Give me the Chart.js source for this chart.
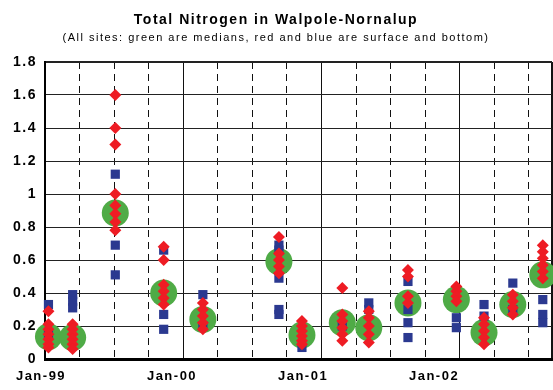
<!DOCTYPE html>
<html>
<head>
<meta charset="utf-8">
<title>Total Nitrogen in Walpole-Nornalup</title>
<script src="https://cdn.jsdelivr.net/npm/chart.js@4"></script>
<style>
  html, body { margin: 0; padding: 0; background: #fff; }
  #wrap { width: 553px; height: 390px; }
</style>
</head>
<body>
<div id="wrap"><canvas id="chartNitrogen"></canvas></div>
<script>
// ==========================
//  Data (months counted from Jan-99)
// ==========================
const sampleMonths = [0.3, 2.4, 6.1, 10.3, 13.7, 20.3, 22.3, 25.8, 28.1, 31.5, 35.7, 38.1, 40.6, 43.2];

// median of all sites per sampling run
const medianTN = [0.135, 0.13, 0.885, 0.40, 0.24, 0.59, 0.145, 0.22, 0.19, 0.34, 0.36, 0.16, 0.33, 0.51];

// surface samples (red)
const surfaceTN = [
  [0.29, 0.21, 0.18, 0.15, 0.12, 0.09, 0.07],
  [0.21, 0.18, 0.15, 0.12, 0.09, 0.06],
  [1.6, 1.4, 1.3, 1.0, 0.93, 0.88, 0.83, 0.78],
  [0.68, 0.6, 0.45, 0.41, 0.37, 0.33],
  [0.34, 0.3, 0.26, 0.22, 0.18],
  [0.74, 0.64, 0.6, 0.56, 0.52],
  [0.23, 0.2, 0.17, 0.14, 0.11, 0.09],
  [0.43, 0.27, 0.23, 0.19, 0.15, 0.11],
  [0.29, 0.25, 0.2, 0.15, 0.1],
  [0.54, 0.5, 0.38, 0.34],
  [0.44, 0.41, 0.38, 0.35],
  [0.25, 0.21, 0.17, 0.13, 0.09],
  [0.39, 0.35, 0.31, 0.27],
  [0.69, 0.65, 0.61, 0.57, 0.53, 0.49],
];

// bottom samples (blue)
const bottomTN = [
  [0.33, 0.15],
  [0.39, 0.35, 0.31],
  [1.12, 0.69, 0.51],
  [0.66, 0.27, 0.18],
  [0.39, 0.2],
  [0.69, 0.66, 0.49, 0.3, 0.27],
  [0.07],
  [0.2],
  [0.34, 0.3],
  [0.47, 0.3, 0.22, 0.13],
  [0.25, 0.19],
  [0.33, 0.26],
  [0.46, 0.3],
  [0.36, 0.27, 0.22],
];

// grid every quarter, last line closes the frame
const gridMonths = [0, 3, 6, 9, 12, 15, 18, 21, 24, 27, 30, 33, 36, 39, 42, 44];
const yearTicks = [0, 12, 24, 36];
const yearLabels = ["Jan-99", "Jan-00", "Jan-01", "Jan-02"];

// ==========================
//  Helpers
// ==========================
function toPoints(values) {
  return sampleMonths.flatMap((m, i) => values[i].map((v) => ({ x: m, y: v })));
}

const wideText = {
  id: "wideText",
  beforeDraw(chart) {
    chart.ctx.letterSpacing = "1.5px";
  },
};

Chart.defaults.font.family = '"Liberation Sans", Arial, sans-serif';
Chart.defaults.color = "#000";

// ==========================
//  Chart
// ==========================
new Chart(document.getElementById("chartNitrogen"), {
  type: "scatter",
  data: {
    datasets: [
      {
        label: "Surface",
        data: toPoints(surfaceTN),
        pointStyle: "rectRot",
        pointRadius: 6,
        backgroundColor: "#ee1c24",
        borderColor: "#ee1c24",
        borderWidth: 0,
        clip: false,
      },
      {
        label: "Bottom",
        data: toPoints(bottomTN),
        pointStyle: "rect",
        pointRadius: 6.5,
        backgroundColor: "#2b3990",
        borderColor: "#2b3990",
        borderWidth: 0,
        clip: false,
      },
      {
        label: "Median",
        data: sampleMonths.map((m, i) => ({ x: m, y: medianTN[i] })),
        pointStyle: "circle",
        pointRadius: 13.5,
        backgroundColor: "#4fab46",
        borderColor: "#4fab46",
        borderWidth: 0,
        clip: false,
      },
    ],
  },
  options: {
    responsive: true,
    maintainAspectRatio: false,
    animation: false,
    layout: { autoPadding: false, padding: { left: 0, right: 1, top: 0, bottom: 0 } },
    plugins: {
      legend: { display: false },
      tooltip: { enabled: false },
      title: {
        display: true,
        text: "Total Nitrogen in Walpole-Nornalup",
        font: { size: 14, weight: "bold" },
        padding: { top: 12, bottom: 0 },
      },
      subtitle: {
        display: true,
        text: "(All sites: green are medians, red and blue are surface and bottom)",
        font: { size: 11, weight: "normal" },
        padding: { top: 3, bottom: 17 },
      },
    },
    scales: {
      x: {
        type: "linear",
        position: "bottom",
        weight: 0,
        min: 0,
        max: 44,
        afterBuildTicks: (axis) => {
          axis.ticks = gridMonths.map((v) => ({ value: v }));
        },
        ticks: { display: false },
        grid: {
          color: "#111",
          drawTicks: false,
          lineWidth: (c) => (c.tick && c.tick.value === 44 ? 2 : 1),
        },
        border: {
          color: "#000",
          width: 3,
          dash: (c) => (c.tick && c.tick.value % 12 !== 0 && c.tick.value !== 44 ? [7, 5] : []),
        },
        afterFit: (axis) => {
          axis.height = 0;
        },
      },
      // year labels, on a slightly tighter spacing than the grid
      xl: {
        type: "linear",
        position: "bottom",
        weight: 1,
        min: 0,
        max: 46.44,
        afterBuildTicks: (axis) => {
          axis.ticks = yearTicks.map((v) => ({ value: v }));
        },
        ticks: {
          autoSkip: false,
          maxRotation: 0,
          labelOffset: -4,
          padding: 10,
          font: { size: 13, weight: "bold" },
          callback: (v, i) => yearLabels[i],
        },
        grid: { display: false, drawTicks: false },
        border: { display: false },
        afterFit: (axis) => {
          axis.height = 31;
        },
      },
      y: {
        min: 0,
        max: 1.8,
        ticks: {
          stepSize: 0.2,
          padding: 8,
          font: { size: 14, weight: "bold" },
          callback: (v) => String(Math.round(v * 10) / 10),
        },
        grid: {
          color: "#222",
          drawTicks: false,
          lineWidth: (c) => (c.tick && Math.abs(c.tick.value - 1.8) < 1e-6 ? 2 : 1),
        },
        border: { color: "#000", width: 2 },
        afterFit: (axis) => {
          axis.width = 45;
        },
      },
    },
  },
  plugins: [wideText],
});
</script>
</body>
</html>
